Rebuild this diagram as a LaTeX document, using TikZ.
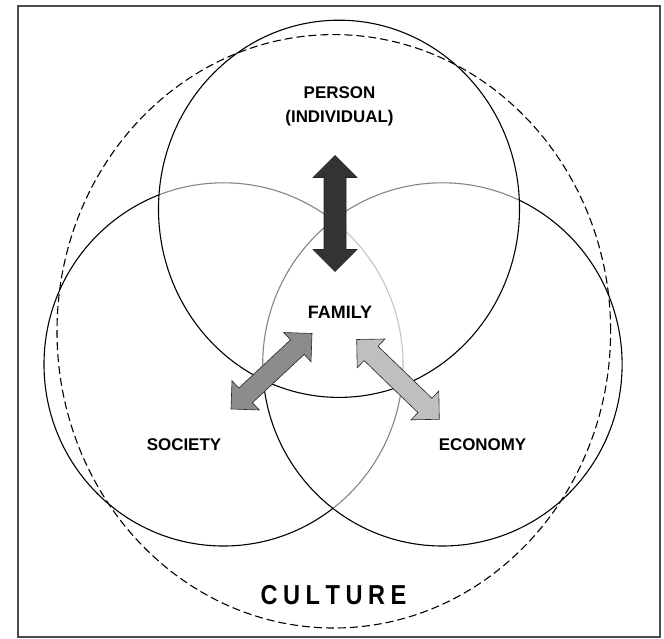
\documentclass[tikz,border=0pt]{standalone}
\usepackage{fontspec}
\setmainfont{Liberation Sans}
\newfontfamily\narrowsans[FakeStretch=0.86]{Liberation Sans}
\usetikzlibrary{calc}

% Fat double-headed arrow between two named points:
% #1,#2 tips, #3 head length, #4 head half-width, #5 shaft half-width, #6 style
\newcommand\fatarrow[6]{%
  \path ($(#1)!#3!(#2)$) coordinate (hA) ($(#2)!#3!(#1)$) coordinate (hB);
  \draw[#6] (#1) -- ($(hA)!#4!90:(#2)$) -- ($(hA)!#5!90:(#2)$)
    -- ($(hB)!#5!-90:(#1)$) -- ($(hB)!#4!-90:(#1)$) -- (#2)
    -- ($(hB)!#4!90:(#1)$) -- ($(hB)!#5!90:(#1)$)
    -- ($(hA)!#5!-90:(#2)$) -- ($(hA)!#4!-90:(#2)$) -- cycle;}

\tikzset{
  sphere/.style={draw=black, line width=1.1bp, fill=white, fill opacity=0.52},
  culture/.style={draw=black, line width=1.1bp, dash pattern=on 8bp off 4bp},
  label/.style={font=\bfseries\fontsize{17}{24}\selectfont, align=center, inner sep=0pt},
  arrowbody/.style={draw=black!85, line width=0.6bp, line join=miter},
}

\begin{document}
\begin{tikzpicture}[x=1bp, y=-1bp]
  \useasboundingbox (0,0) rectangle (664,639);
  \fill[white] (0,0) rectangle (664,639);
  \draw[black!70, line width=1.3bp] (18,6) rectangle (660,637);

  % centres of the spheres
  \coordinate (cSoc) at (223.5,364.4);
  \coordinate (cEco) at (442.4,364.4);
  \coordinate (cPer) at (339,208.8);
  \coordinate (cCul) at (333.8,331.3);

  % spheres, each one half veiling the lines beneath it
  \draw[sphere] (cSoc) ellipse [x radius=179.5bp, y radius=181.6bp];
  \draw[sphere] (cEco) ellipse [x radius=179.7bp, y radius=181.6bp];
  \draw[sphere] (cPer) ellipse [x radius=180.5bp, y radius=188.6bp];

  % surrounding culture boundary
  \draw[culture] (cCul) ellipse [x radius=276.8bp, y radius=296.7bp];

  % arrow tips
  \coordinate (perTop) at (335,155.5);
  \coordinate (perBot) at (335,271.5);
  \coordinate (socIn)  at (312,333.5);
  \coordinate (socOut) at (231,409);
  \coordinate (ecoIn)  at (356.7,339.5);
  \coordinate (ecoOut) at (439.3,419.3);

  \fatarrow{perTop}{perBot}{22bp}{22bp}{11bp}{arrowbody, fill=black!80}
  \fatarrow{socOut}{socIn}{20bp}{20bp}{10bp}{arrowbody, fill=black!45}
  \fatarrow{ecoIn}{ecoOut}{20bp}{20bp}{10bp}{arrowbody, fill=black!25}

  % labels
  \node[label] (person) at (339.5,106.5) {PERSON\\(INDIVIDUAL)};
  \node[label, font=\bfseries\fontsize{18}{22}\selectfont] (family) at (340,312) {FAMILY};
  \node[label] (society) at (184,445) {SOCIETY};
  \node[label] (economy) at (482.5,445) {ECONOMY};
  \node[inner sep=0pt, font=\narrowsans\bfseries\fontsize{27.5}{30}\selectfont] (culture) at (333.5,595)
    {C\kern5.5bp U\kern5.5bp L\kern5.5bp T\kern5.5bp U\kern5.5bp R\kern5.5bp E};
\end{tikzpicture}
\end{document}
